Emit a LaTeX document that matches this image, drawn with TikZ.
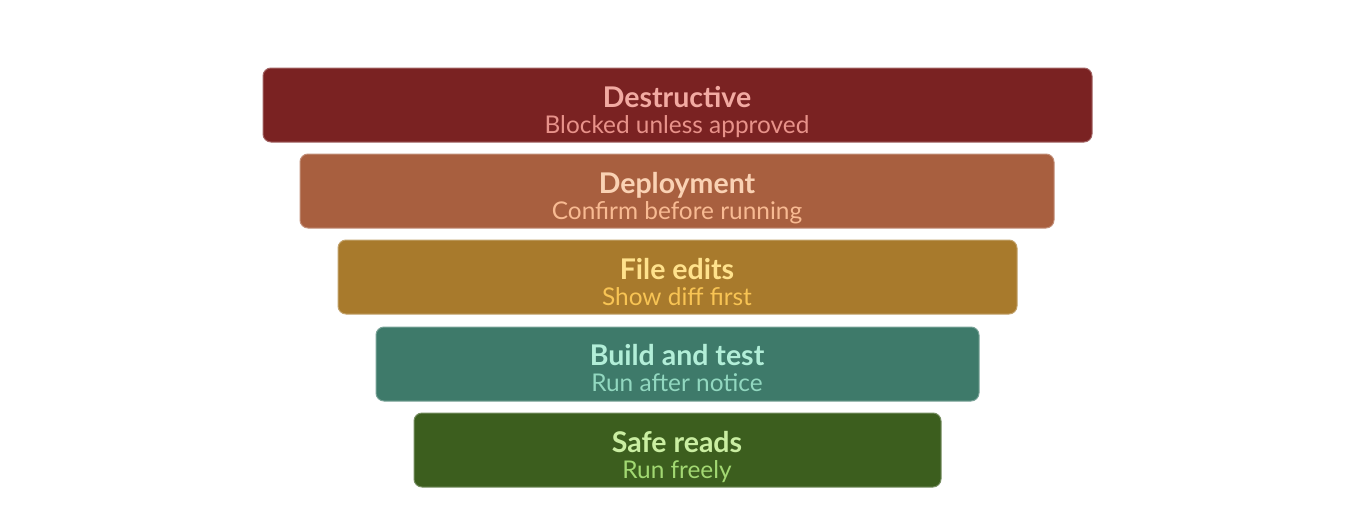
\documentclass[tikz,border=0pt]{standalone}
\usepackage{fontspec}
\setmainfont{Lato}
\definecolor{f1}{HTML}{7A2222}\definecolor{t1}{HTML}{F2AAA2}\definecolor{s1}{HTML}{E8928A}
\definecolor{f2}{HTML}{A85F3F}\definecolor{t2}{HTML}{FAD2B4}\definecolor{s2}{HTML}{F8BA92}
\definecolor{f3}{HTML}{A87A2C}\definecolor{t3}{HTML}{FFE28C}\definecolor{s3}{HTML}{F8C454}
\definecolor{f4}{HTML}{3E7A6A}\definecolor{t4}{HTML}{B2EED8}\definecolor{s4}{HTML}{92D8C0}
\definecolor{f5}{HTML}{3C5E1E}\definecolor{t5}{HTML}{CAEEA2}\definecolor{s5}{HTML}{A2D872}
\tikzset{
  tier/.style={draw=#1!70!white, line width=1pt, fill=#1, rounded corners=8pt},
  ttl/.style={font=\fontsize{28.5}{32}\selectfont\bfseries, anchor=base},
  sub/.style={font=\fontsize{24.4}{28}\selectfont, anchor=base},
}
\begin{document}
\begin{tikzpicture}[x=1pt,y=-1pt]
\useasboundingbox (0,0) rectangle (1370,525);
\fill[white] (0,0) rectangle (1370,525);
\path[tier=f1] (263,68) rectangle (1092,142) node[midway] (b1) {};
\path[tier=f2] (300,154) rectangle (1054,228) node[midway] (b2) {};
\path[tier=f3] (338,240) rectangle (1017,314) node[midway] (b3) {};
\path[tier=f4] (376,327) rectangle (979,401) node[midway] (b4) {};
\path[tier=f5] (414,413) rectangle (941,487) node[midway] (b5) {};
\node[ttl, text=t1] (l1) at (677,107) {Destructive};
\node[sub, text=s1] (m1) at (677,133) {Blocked unless approved};
\node[ttl, text=t2] (l2) at (677,193) {Deployment};
\node[sub, text=s2] (m2) at (677,219) {Confirm before running};
\node[ttl, text=t3] (l3) at (677,279) {File edits};
\node[sub, text=s3] (m3) at (677,305) {Show diff first};
\node[ttl, text=t4] (l4) at (677,365) {Build and test};
\node[sub, text=s4] (m4) at (677,391) {Run after notice};
\node[ttl, text=t5] (l5) at (677,452) {Safe reads};
\node[sub, text=s5] (m5) at (677,478) {Run freely};
\end{tikzpicture}
\end{document}
